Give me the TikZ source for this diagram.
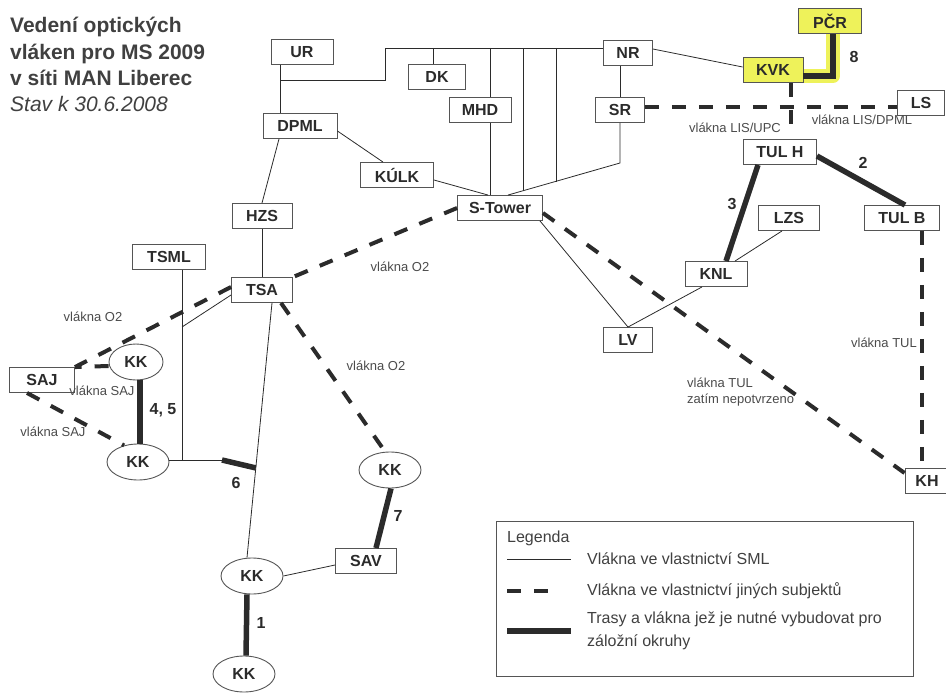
\documentclass[tikz,border=0pt]{standalone}
\usepackage{fontspec}
\setmainfont{Liberation Sans}
\usetikzlibrary{shapes.geometric,calc,backgrounds}

\definecolor{ink}{HTML}{2B2B2B}
\definecolor{hilite}{HTML}{EEF25A}

\begin{document}
\begin{tikzpicture}[x=1pt,y=-1pt,
  box/.style={draw=ink!80,line width=0.9pt,minimum height=25pt,inner sep=0pt,
    font=\fontsize{16}{16}\selectfont\bfseries,text=ink},
  kk/.style={ellipse,draw=ink!80,line width=0.9pt,minimum width=62pt,minimum height=36pt,
    inner sep=0pt,font=\fontsize{16}{16}\selectfont\bfseries,text=ink},
  sml/.style={draw=ink,line width=0.8pt},
  other/.style={draw=ink,line width=4pt,dash pattern=on 14pt off 13pt},
  build/.style={draw=ink,line width=5.5pt},
  num/.style={font=\fontsize{16}{16}\selectfont\bfseries,text=ink},
  lbl/.style={font=\fontsize{13}{16}\selectfont,text=ink!85},
  headline/.style={anchor=base west,inner sep=0pt,font=\fontsize{21}{26}\selectfont\bfseries,text=ink!90},
  lgd/.style={anchor=west,inner sep=0pt,font=\fontsize{16}{23}\selectfont,text=ink!90}]

\useasboundingbox (0,0) rectangle (946,693);

% title
\node[headline] (t1) at (10,33) {Vedení optických};
\node[headline] (t2) at (10,60) {vláken pro MS 2009};
\node[headline] (t3) at (10,86) {v síti MAN Liberec};
\node[headline,font=\fontsize{21}{26}\selectfont\itshape] (t4) at (10,111) {Stav k 30.6.2008};

% boxes
\node[box,minimum width=62pt] (UR) at (302,52) {UR};
\node[box,minimum width=57pt] (DK) at (437,77) {DK};
\node[box,minimum width=62pt] (MHD) at (480,110) {MHD};
\node[box,minimum width=49pt] (NR) at (628,53) {NR};
\node[box,minimum width=49pt] (SR) at (620,110) {SR};
\node[box,minimum width=74pt] (DPML) at (300,126) {DPML};
\node[box,minimum width=73pt] (KULK) at (397,175) {KÚLK};
\node[box,minimum width=85pt] (STower) at (500,208) {S-Tower};
\node[box,minimum width=60pt] (HZS) at (262,216) {HZS};
\node[box,minimum width=73pt] (TSML) at (169,257) {TSML};
\node[box,minimum width=61pt] (TSA) at (262,290) {TSA};
\node[box,minimum width=65pt] (SAJ) at (42,380) {SAJ};
\node[box,minimum width=60pt,fill=hilite] (KVK) at (773,70) {KVK};
\node[box,minimum width=63pt,fill=hilite] (PCR) at (830,21) {PČR};
\node[box,minimum width=47pt] (LS) at (921,103) {LS};
\node[box,minimum width=73pt] (TULH) at (780,152) {TUL H};
\node[box,minimum width=61pt] (LZS) at (789,218) {LZS};
\node[box,minimum width=75pt] (TULB) at (902,218) {TUL B};
\node[box,minimum width=62pt] (KNL) at (716,274) {KNL};
\node[box,minimum width=49pt] (LV) at (628,340) {LV};
\node[box,minimum width=44pt] (KH) at (927,481) {KH};
\node[box,minimum width=61pt] (SAV) at (366,561) {SAV};

% manholes
\node[kk,minimum width=54pt] (KKa) at (136,362) {KK};
\node[kk] (KKb) at (138,462) {KK};
\node[kk] (KKc) at (390,470) {KK};
\node[kk] (KKd) at (252,576) {KK};
\node[kk] (KKe) at (244,674) {KK};

% junctions
\coordinate (jUR) at (280,80);
\coordinate (jBus) at (385,48);
\coordinate (bDK) at (433,48);
\coordinate (bMHD) at (490,48);
\coordinate (bA) at (523,48);
\coordinate (eA) at (523,191);
\coordinate (bB) at (556,48);
\coordinate (eB) at (556,182);
\coordinate (jSR) at (620,163);
\coordinate (jTSML) at (182,327);
\coordinate (jTS) at (182,460);
\coordinate (j6) at (222,460);
\coordinate (tsaS) at ([xshift=10]TSA.south);
\coordinate (kkdN) at ([xshift=-5]KKd.north);
\coordinate (j6b) at ($(tsaS)!0.648!(kkdN)$);
\coordinate (eKVK) at (791,128);

% yellow marking
\begin{scope}[on background layer]
\draw[hilite,line width=14pt,line join=round,line cap=round] ([yshift=-6]KVK.east) -| ([xshift=3]PCR.south);
\end{scope}

% fibres of SML
\draw[sml] ([xshift=-22]UR.south) -- ([xshift=-20]DPML.north);
\draw[sml] (jUR) -| (jBus) -- ([yshift=5]NR.west);
\draw[sml] (bDK) -- ([xshift=-4]DK.north);
\draw[sml] (bMHD) -- ([xshift=10]MHD.north);
\draw[sml] ([xshift=10]MHD.south) -- ([xshift=-10]STower.north);
\draw[sml] (bA) -- (eA);
\draw[sml] (bB) -- (eB);
\draw[sml] ([xshift=-8]NR.south) -- (SR.north);
\draw[sml] (SR.south) -- (jSR) -- ([xshift=8]STower.north);
\draw[sml] ([yshift=4]NR.east) -- ([yshift=3]KVK.west);
\draw[sml] ([yshift=-5]DPML.east) -- ([xshift=-14]KULK.north);
\draw[sml] ([yshift=-5]KULK.east) -- ([xshift=-12]STower.north);
\draw[sml] ([xshift=-21]DPML.south) -- (HZS.north);
\draw[sml] (HZS.south) -- (HZS.south |- TSA.north);
\draw[sml] ([xshift=13]TSML.south) -- (jTS);
\draw[sml] (KKb.east |- j6) -- (j6);
\draw[sml] (jTSML) -- ([yshift=-5]TSA.west);
\draw[sml] (tsaS) -- (kkdN);
\draw[sml] (KKd.east) -- ([yshift=-4]SAV.west);
\draw[sml] ([xshift=40]STower.south) -- (LV.north);
\draw[sml] (LV.north) -- ([xshift=-14]KNL.south);
\draw[sml] ([xshift=19]KNL.north) -- ([xshift=-7]LZS.south);

% fibres of other owners
\draw[other] ([yshift=3]SR.east) -- ([yshift=-4]LS.west);
\draw[other] ([xshift=18]KVK.south) -- (eKVK);
\draw[other] (STower.west) -- (TSA.north east);
\draw[other] ([yshift=3]TSA.west) -- (SAJ.north east);
\draw[other] ([yshift=-4]KKa.west) -- (SAJ.north east);
\draw[other] ([xshift=-15]SAJ.south) -- (KKb.130);
\draw[other] ([xshift=19]TSA.south) -- ([xshift=-5]KKc.north);
\draw[other] ([yshift=-5]STower.east) -- ([yshift=8]KH.west);
\draw[other] ([xshift=20]TULB.south) -- ([xshift=-5]KH.north);

% routes to build
\draw[build] ([xshift=4]KKa.south) -- ([xshift=2]KKb.north);
\draw[build] (j6) -- (j6b);
\draw[build] ([xshift=1]KKc.south) -- ([xshift=10]SAV.north);
\draw[build] ([xshift=-5]KKd.south) -- ([xshift=2]KKe.north);
\draw[build] ([xshift=-22]TULH.south) -- ([xshift=10]KNL.north);
\draw[build] ([yshift=-4]TULH.east) -- ([xshift=3]TULB.north);
\draw[build] ([yshift=-6]KVK.east) -| ([xshift=3]PCR.south);

% numbers
\node[num] (n8) at (854,57) {8};
\node[num] (n2) at (863,163) {2};
\node[num] (n3) at (732,204) {3};
\node[num] (n45) at (163,410) {4, 5};
\node[num] (n6) at (236,483) {6};
\node[num] (n7) at (398,516) {7};
\node[num] (n1) at (261,623) {1};

% labels
\node[lbl] (lUPC) at (735,128) {vlákna LIS/UPC};
\node[lbl] (lDPML) at (862,120) {vlákna LIS/DPML};
\node[lbl] (lO2a) at (400,267) {vlákna O2};
\node[lbl] (lO2b) at (93,317) {vlákna O2};
\node[lbl] (lO2c) at (376,366) {vlákna O2};
\node[lbl] (lSAJa) at (102,391) {vlákna SAJ};
\node[lbl] (lSAJb) at (53,432) {vlákna SAJ};
\node[lbl] (lTUL) at (884,343) {vlákna TUL};
\node[lbl,anchor=west,align=left,inner sep=0pt] (lTULz) at (687,392) {vlákna TUL\\zatím nepotvrzeno};

% legend
\node[draw=ink!80,line width=0.9pt,minimum width=417pt,minimum height=155pt,inner sep=0pt] (legend) at (704.5,598.5) {};
\node[lgd] (lgT) at (507,538) {Legenda};
\coordinate (lgA1) at (507,559);
\coordinate (lgA2) at (571,559);
\coordinate (lgB1) at (507,591);
\coordinate (lgB2) at (550,591);
\coordinate (lgC1) at (507,631);
\coordinate (lgC2) at (571,631);
\draw[sml] (lgA1) -- (lgA2);
\draw[other] (lgB1) -- (lgB2);
\draw[build] (lgC1) -- (lgC2);
\node[lgd] (lgA) at (587,559) {Vlákna ve vlastnictví SML};
\node[lgd] (lgB) at (587,591) {Vlákna ve vlastnictví jiných subjektů};
\node[lgd,align=left] (lgC) at (587,631) {Trasy a vlákna jež je nutné vybudovat pro\\záložní okruhy};

\end{tikzpicture}
\end{document}
